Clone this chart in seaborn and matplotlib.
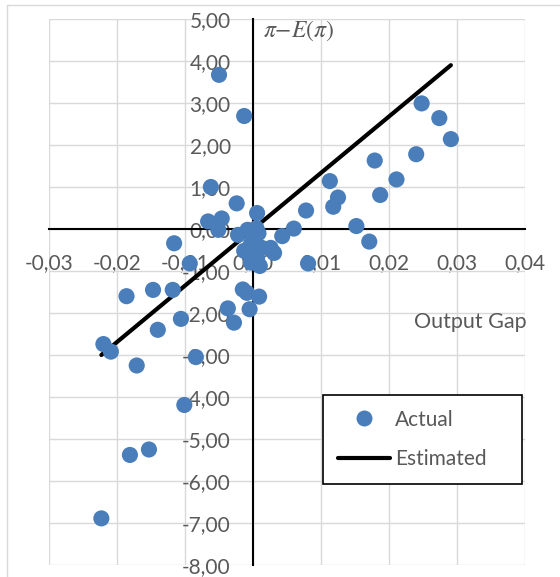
import matplotlib
matplotlib.use("Agg")
import matplotlib.pyplot as plt
import seaborn as sns
import pandas as pd
from matplotlib.lines import Line2D

# Output gap vs. inflation surprise
output_gap = [
    -0.0050, -0.0013, -0.0062, -0.0024, 0.0006, -0.0066, -0.0046, -0.0051,
    -0.0022, -0.0008, 0.0005, 0.0008, -0.0003, 0.0013, -0.0013, 0.0006,
    0.0026, 0.0031, 0.0043, 0.0010, -0.0003,
    0.0060, 0.0078, 0.0081, 0.0113, 0.0125, 0.0118, 0.0152, 0.0171,
    0.0179, 0.0187, 0.0211, 0.0240, 0.0248, 0.0274, 0.0291,
    -0.0116, -0.0093, -0.0186, -0.0147, -0.0118, -0.0106, -0.0140,
    -0.0220, -0.0209, -0.0171, -0.0084, -0.0101, -0.0181, -0.0153, -0.0223,
    -0.0015, -0.0009, 0.0009, -0.0037, -0.0005, -0.0028,
]
inflation_gap = [
    3.67, 2.69, 1.00, 0.61, 0.38, 0.18, 0.25, -0.02,
    -0.14, -0.02, 0.02, -0.10, -0.36, -0.45, -0.52, -0.70,
    -0.45, -0.57, -0.17, -0.88, -0.80,
    0.01, 0.44, -0.82, 1.14, 0.75, 0.53, 0.07, -0.30,
    1.63, 0.81, 1.18, 1.78, 2.99, 2.64, 2.14,
    -0.34, -0.82, -1.60, -1.45, -1.45, -2.14, -2.40,
    -2.74, -2.92, -3.25, -3.05, -4.19, -5.38, -5.25, -6.89,
    -1.44, -1.52, -1.61, -1.89, -1.91, -2.23,
]

# Fitted line
estimated_x = [-0.0223, 0.0291]
estimated_y = [-3.00, 3.90]

x_ticks = [-0.03, -0.02, -0.01, 0.00, 0.01, 0.02, 0.03, 0.04]
y_ticks = [5, 4, 3, 2, 1, 0, -1, -2, -3, -4, -5, -6, -7, -8]

actual = pd.DataFrame({"gap": output_gap, "infl": inflation_gap})
estimated = pd.DataFrame({"gap": estimated_x, "infl": estimated_y})

sns.set_theme(style="white")
plt.rcParams["font.family"] = ["Lato", "DejaVu Sans"]
plt.rcParams["mathtext.fontset"] = "stix"

GREY = "#595959"
BLUE = "#4a7ebb"

fig = plt.figure(figsize=(5.6, 5.77), dpi=100)
ax = fig.add_axes([0.0875, 0.0208, 0.85, 0.9463])

sns.lineplot(data=estimated, x="gap", y="infl", ax=ax, color="black",
             linewidth=3.0, zorder=3, legend=False)
sns.scatterplot(data=actual, x="gap", y="infl", ax=ax, color=BLUE, s=135,
                edgecolor="none", zorder=4, legend=False)

ax.set_xlim(-0.03, 0.04)
ax.set_ylim(-8, 5)
ax.set_xticks(x_ticks)
ax.set_yticks(y_ticks)
ax.set_xticklabels([f"{v:.2f}".replace(".", ",") for v in x_ticks])
ax.set_yticklabels([f"{v:.2f}".replace(".", ",") for v in y_ticks])
ax.set_xlabel("")
ax.set_ylabel("")

ax.grid(True, color="#d9d9d9", linewidth=1.0, zorder=0)
ax.set_axisbelow(True)

for side in ("top", "right"):
    ax.spines[side].set_visible(False)
for side in ("left", "bottom"):
    ax.spines[side].set_position(("data", 0))
    ax.spines[side].set_color("black")
    ax.spines[side].set_linewidth(1.5)
    ax.spines[side].set_zorder(2.5)

ax.tick_params(axis="both", length=0, labelsize=15, labelcolor=GREY)
ax.tick_params(axis="y", pad=16)
ax.tick_params(axis="x", pad=17)

ax.text(0.0403, -2.21, "Output Gap", ha="right", va="center",
        fontsize=15.5, color=GREY)
ax.text(0.0015, 4.72, r"$\pi{-}E(\pi)$", ha="left", va="center",
        fontsize=17, color=GREY)

handles = [
    Line2D([], [], marker="o", linestyle="none", markersize=11.5,
           markerfacecolor=BLUE, markeredgecolor="none", label="Actual"),
    Line2D([], [], color="black", linewidth=3.0, label="Estimated"),
]
leg = ax.legend(handles=handles, loc="upper left",
                bbox_to_anchor=(0.5756, 0.152, 0.418, 0.1594), mode="expand",
                borderaxespad=0, fontsize=15, labelcolor=GREY,
                frameon=True, fancybox=False, framealpha=1,
                borderpad=0.7, labelspacing=0.95, handlelength=2.5,
                handletextpad=0.25)
leg.get_frame().set_edgecolor("black")
leg.get_frame().set_linewidth(1.2)
leg.set_zorder(5)

# Chart-area border
fig.add_artist(Line2D([7 / 560, 7 / 560], [0, 1 - 5 / 577],
                      transform=fig.transFigure, color="#d9d9d9", linewidth=1.0))
fig.add_artist(Line2D([7 / 560, 1], [1 - 5 / 577, 1 - 5 / 577],
                      transform=fig.transFigure, color="#d9d9d9", linewidth=1.0))

fig.savefig("out.png", dpi=100, facecolor="white")
